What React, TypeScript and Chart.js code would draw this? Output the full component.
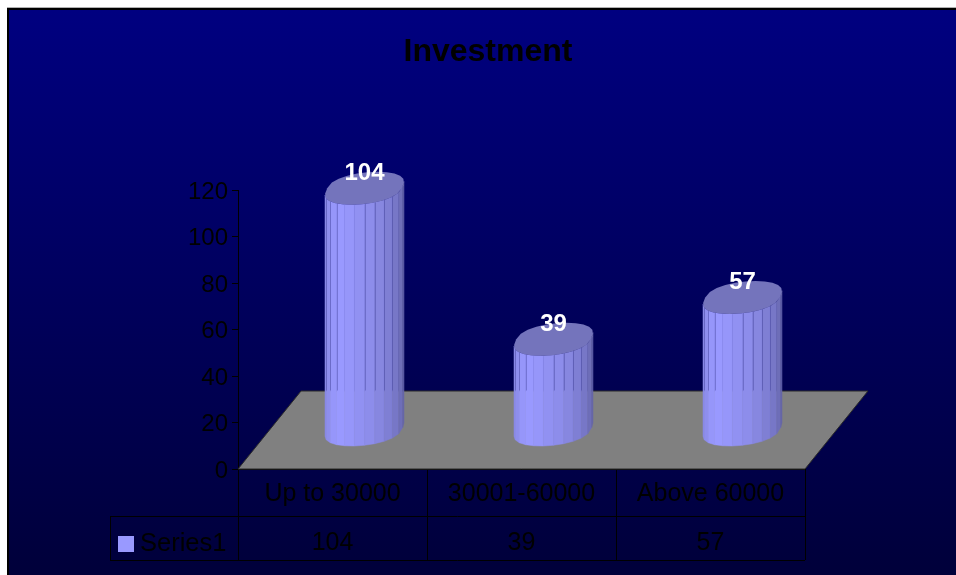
import React, { useEffect, useRef } from "react";
import { Chart, registerables, BarController, BarElement } from "chart.js";

const categories = ["Up to 30000", "30001-60000", "Above 60000"];
const seriesName = "Series1";
const seriesValues = [104, 39, 57];
const yTicks = { min: 0, max: 120, step: 20 };

const SANS = "'Liberation Sans', Arial, sans-serif";
const BAR_RGB = [153, 153, 255];
const TOP_FACE = "#7474BC";
const FLOOR = "#808080";
const FLOOR_DEPTH_X = 63;
const FLOOR_DEPTH_Y = 78;
// Brightness of each side facet of a column, left to right.
const FACET_SHADES = [0.9, 0.93, 0.98, 1, 0.98, 0.95, 0.92, 0.88, 0.83, 0.78, 0.72, 0.66];
const FACET_RULES = [1, 2, 3, 6, 7, 8, 9, 11];

const shade = (k: number) => `rgb(${BAR_RGB.map((c) => Math.round(c * k)).join(",")})`;

// Sheared ellipse: a circle lying on the floor plane, seen in perspective,
// slightly flattened where it crosses the column's centre line.
function ringPoint(cx: number, cy: number, halfW: number, deg: number) {
  const shear = halfW * 0.33;
  const rise = halfW * 0.418;
  const radius = Math.sqrt(halfW * halfW - shear * shear);
  const t = (deg * Math.PI) / 180;
  const s = Math.sin(t);
  const flat = Math.sign(s) * Math.pow(Math.abs(s), 0.8);
  return [cx + radius * Math.cos(t) + shear * s, cy - rise * flat];
}

class CylinderBar extends BarElement {
  static id = "cylinderBar";

  draw(ctx: CanvasRenderingContext2D) {
    const { x, y, base, width } = (this as any).getProps(["x", "y", "base", "width"]);
    const cx = x + FLOOR_DEPTH_X / 2 + 0.5;
    const topY = y - FLOOR_DEPTH_Y / 2;
    const baseY = base - FLOOR_DEPTH_Y / 2;
    const halfW = width / 2;
    const backY = base - FLOOR_DEPTH_Y;
    const start = 199.3;
    ctx.save();
    FACET_SHADES.forEach((k, i) => {
      const a0 = start + i * 15;
      const [x0, y0t] = ringPoint(cx, topY, halfW, a0);
      const [x1, y1t] = ringPoint(cx, topY, halfW, a0 + 15);
      const [, y0b] = ringPoint(cx, baseY, halfW, a0);
      const [, y1b] = ringPoint(cx, baseY, halfW, a0 + 15);
      ctx.beginPath();
      ctx.moveTo(x0, y0t);
      ctx.lineTo(x1, y1t);
      ctx.lineTo(x1, y1b);
      ctx.lineTo(x0, y0b);
      ctx.closePath();
      ctx.fillStyle = shade(k);
      ctx.strokeStyle = shade(k);
      ctx.lineWidth = 0.5;
      ctx.fill();
      ctx.stroke();
    });
    // Facet edges show above the back of the floor only.
    ctx.strokeStyle = "rgba(70,70,160,0.45)";
    ctx.lineWidth = 1;
    FACET_RULES.forEach((i) => {
      const [px, py] = ringPoint(cx, topY, halfW, start + i * 15);
      ctx.beginPath();
      ctx.moveTo(Math.round(px) + 0.5, py);
      ctx.lineTo(Math.round(px) + 0.5, backY);
      ctx.stroke();
    });
    ctx.beginPath();
    for (let i = 0; i < 24; i++) {
      const [px, py] = ringPoint(cx, topY, halfW, i * 15);
      if (i === 0) ctx.moveTo(px, py);
      else ctx.lineTo(px, py);
    }
    ctx.closePath();
    ctx.fillStyle = TOP_FACE;
    ctx.fill();
    ctx.restore();
  }
}

class CylinderController extends BarController {
  static id = "cylinder";
  static defaults = { dataElementType: "cylinderBar" };
  static overrides = BarController.overrides;
}

Chart.register(...registerables, CylinderBar, CylinderController);

// Page backdrop: white margin, dark frame, navy gradient.
const backdrop = {
  id: "backdrop",
  beforeDraw(chart: any) {
    const { ctx, width, height } = chart;
    ctx.save();
    ctx.fillStyle = "#fff";
    ctx.fillRect(0, 0, width, height);
    ctx.fillStyle = "#b0b0b0";
    ctx.fillRect(7, 7, width - 7, 1);
    ctx.fillStyle = "#000";
    ctx.fillRect(7, 8, width - 7, height - 8);
    const g = ctx.createLinearGradient(0, 10, 0, height);
    g.addColorStop(0, "#000080");
    g.addColorStop(1, "#00003A");
    ctx.fillStyle = g;
    ctx.fillRect(9, 10, width - 9, height - 10);
    ctx.restore();
  },
  afterLayout(chart: any) {
    // Title sits a little right of the page centre.
    chart.titleBlock.left = 20;
    chart.titleBlock.right = chart.width;
  },
};

const floor = {
  id: "floor",
  beforeDatasetsDraw(chart: any) {
    const { ctx, chartArea: a } = chart;
    ctx.save();
    ctx.beginPath();
    ctx.moveTo(a.left, a.bottom);
    ctx.lineTo(a.left + FLOOR_DEPTH_X, a.bottom - FLOOR_DEPTH_Y);
    ctx.lineTo(a.right + FLOOR_DEPTH_X, a.bottom - FLOOR_DEPTH_Y);
    ctx.lineTo(a.right, a.bottom);
    ctx.closePath();
    ctx.fillStyle = FLOOR;
    ctx.fill();
    ctx.strokeStyle = "#2a2a2a";
    ctx.lineWidth = 1;
    ctx.stroke();
    ctx.restore();
  },
};

const valueLabels = {
  id: "valueLabels",
  afterDatasetsDraw(chart: any) {
    const { ctx } = chart;
    const meta = chart.getDatasetMeta(0);
    ctx.save();
    ctx.font = `bold 24px ${SANS}`;
    ctx.fillStyle = "#fff";
    ctx.textAlign = "center";
    ctx.textBaseline = "middle";
    meta.data.forEach((el: any, i: number) => {
      ctx.fillText(String(seriesValues[i]), el.x + FLOOR_DEPTH_X / 2 + 0.5, el.y - FLOOR_DEPTH_Y / 2 - 15);
    });
    ctx.restore();
  },
};

// Data table under the axis: series key, name and one value per category.
const dataTable = {
  id: "dataTable",
  afterDraw(chart: any) {
    const { ctx, chartArea: a, scales } = chart;
    const rowTop = 516;
    const rowBottom = 560;
    const keyLeft = 110;
    ctx.save();
    ctx.strokeStyle = "#000";
    ctx.lineWidth = 1;
    ctx.beginPath();
    ctx.moveTo(keyLeft, rowTop + 0.5);
    ctx.lineTo(a.right, rowTop + 0.5);
    ctx.moveTo(keyLeft, rowBottom + 0.5);
    ctx.lineTo(a.right, rowBottom + 0.5);
    ctx.moveTo(keyLeft + 0.5, rowTop);
    ctx.lineTo(keyLeft + 0.5, rowBottom);
    ctx.stroke();
    ctx.fillStyle = shade(1);
    ctx.fillRect(118, 536, 16, 16);
    ctx.fillStyle = "#000";
    ctx.font = `25.5px ${SANS}`;
    ctx.textBaseline = "middle";
    ctx.textAlign = "left";
    ctx.fillText(seriesName, 140, 544);
    ctx.textAlign = "center";
    ctx.font = `25px ${SANS}`;
    seriesValues.forEach((v, i) => {
      ctx.fillText(String(v), scales.x.getPixelForValue(i), 543);
    });
    ctx.restore();
  },
};

export default function App() {
  const ref = useRef<HTMLCanvasElement>(null);

  useEffect(() => {
    const chart = new Chart(ref.current as HTMLCanvasElement, {
      type: "bar",
      data: {
        labels: categories,
        datasets: [
          {
            type: "cylinder" as any,
            label: seriesName,
            data: seriesValues,
            backgroundColor: shade(1),
            barPercentage: 0.418,
            categoryPercentage: 1,
            clip: false as any,
          },
        ],
      },
      options: {
        animation: false,
        responsive: false,
        layout: { padding: { right: 151, left: 0, top: 0, bottom: 0 } },
        plugins: {
          legend: { display: false },
          tooltip: { enabled: false },
          title: {
            display: true,
            text: "Investment",
            color: "#000",
            font: { family: SANS, size: 32, weight: "bold", lineHeight: 1.2 },
            padding: { top: 33, bottom: 118.6 },
          },
        },
        scales: {
          x: {
            afterFit: (s: any) => {
              s.height = 106;
            },
            border: { color: "#000" },
            grid: { drawOnChartArea: false, color: "#000", tickLength: 91 },
            ticks: {
              color: "#000",
              font: { family: SANS, size: 25 },
              padding: -81,
              maxRotation: 0,
              autoSkip: false,
            },
          },
          y: {
            min: yTicks.min,
            max: yTicks.max,
            afterFit: (s: any) => {
              s.width = 238;
            },
            border: { color: "#000" },
            grid: { drawOnChartArea: false, color: "#000", tickLength: 6 },
            ticks: {
              stepSize: yTicks.step,
              color: "#000",
              font: { family: SANS, size: 24 },
              padding: 4,
              labelOffset: 2,
            },
          },
        },
      },
      plugins: [backdrop, floor, valueLabels, dataTable],
    } as any);
    return () => chart.destroy();
  }, []);

  return (
    <canvas
      ref={ref}
      width={956}
      height={575}
      style={{ position: "fixed", left: 0, top: 0, width: 956, height: 575 }}
    />
  );
}
